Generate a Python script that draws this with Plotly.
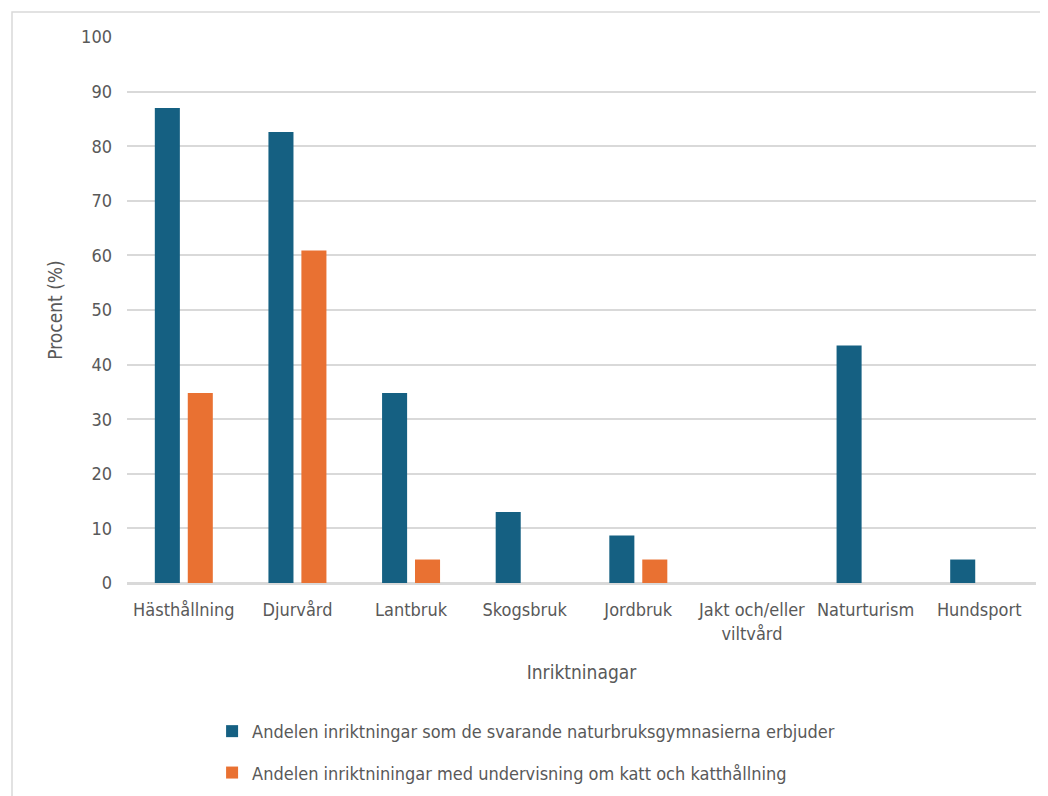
import plotly.graph_objects as go

categories = ["Hästhållning", "Djurvård", "Lantbruk", "Skogsbruk", "Jordbruk",
              "Jakt och/eller<br>viltvård", "Naturturism", "Hundsport"]
offered = [87.0, 82.6, 34.8, 13.0, 8.7, 0, 43.5, 4.3]
with_cat = [34.8, 60.9, 4.3, 0, 4.3, 0, 0, 0]
name_offered = "Andelen inriktningar som de svarande naturbruksgymnasierna erbjuder"
name_cat = "Andelen inriktniningar med undervisning om katt och katthållning"

font_family = "DejaVu Sans Condensed, Liberation Sans Narrow, Arial Narrow, sans-serif"
txt = "#595959"

fig = go.Figure()
fig.add_trace(go.Bar(x=categories, y=offered, name=name_offered,
                     marker=dict(color="#156082", line=dict(width=0)), legendgroup="a"))
fig.add_trace(go.Bar(x=categories, y=with_cat, name=name_cat,
                     marker=dict(color="#E97132", line=dict(width=0)), legendgroup="b"))

fig.update_layout(
    width=1040, height=788,
    margin=dict(l=119, r=12, t=29, b=213, autoexpand=False),
    paper_bgcolor="white", plot_bgcolor="white",
    font=dict(family=font_family, size=18, color=txt),
    barmode="group", bargap=0.42, bargroupgap=0.24,
    showlegend=True,
    legend=dict(orientation="v", x=0.0936, xanchor="left", y=-0.238, yanchor="top",
                tracegroupgap=15, font=dict(size=18, color=txt)),
    xaxis=dict(title=dict(text="Inriktninagar", font=dict(size=19, color=txt), standoff=23),
               showline=True, linecolor="#d9d9d9", linewidth=1.5, automargin=False,
               ticks="", ticklabelstandoff=10, tickfont=dict(size=18, color=txt)),
    yaxis=dict(title=dict(text="Procent (%)", font=dict(size=19, color=txt), standoff=13),
               range=[0, 100], dtick=10, showgrid=True, gridcolor="#d9d9d9", gridwidth=1.5,
               zeroline=True, zerolinecolor="#d9d9d9", zerolinewidth=1.5, automargin=False,
               ticks="", ticklabelstandoff=14, tickfont=dict(size=18, color=txt)),
)
fig.add_shape(type="rect", xref="paper", yref="paper",
              x0=-0.1265, x1=1.02, y0=-0.45, y1=1.0458,
              line=dict(color="#d9d9d9", width=1.5), fillcolor="rgba(0,0,0,0)", layer="below")

fig.write_html("out.html")
